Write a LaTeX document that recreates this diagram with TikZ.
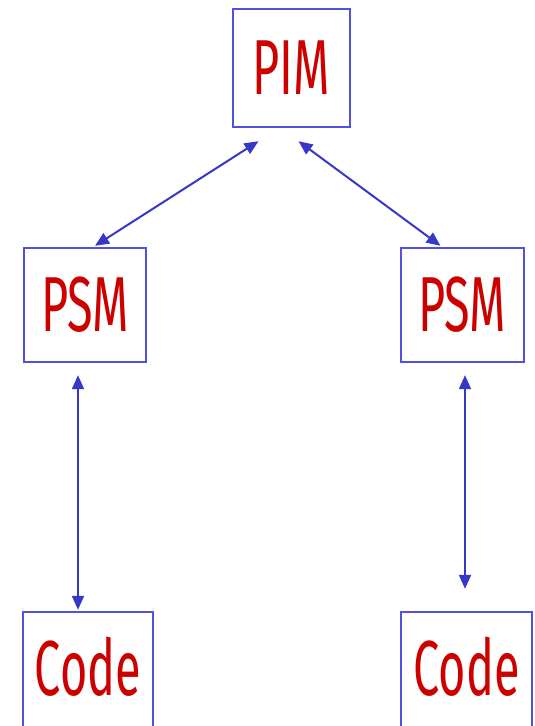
\documentclass[tikz,border=0pt]{standalone}
\usepackage{fontspec}
\usepackage{tikz}
\usetikzlibrary{arrows.meta}

\newfontfamily\modelfont[FakeStretch=0.6]{Fira Sans}
\definecolor{boxblue}{RGB}{80,80,225}
\definecolor{arrowblue}{RGB}{55,55,200}
\definecolor{labelred}{RGB}{205,0,0}

\tikzset{
  model/.style={draw=boxblue, line width=2.4pt, text=labelred, inner sep=0pt,
    font=\modelfont\fontsize{78}{78}\selectfont},
  link/.style={arrowblue, line width=2pt,
    {Triangle[length=14pt,width=12pt]}-{Triangle[length=14pt,width=12pt]}}
}

\begin{document}
\begin{tikzpicture}[x=1pt,y=-1pt]
  \clip (0,0) rectangle (535,726);
  \node[model, minimum width=117pt, minimum height=118pt] (pim)  at (291.5,68) {PIM};
  \node[model, minimum width=122pt, minimum height=114pt] (psml) at (85,305) {PSM};
  \node[model, minimum width=123pt, minimum height=114pt] (psmr) at (462.5,305) {PSM};
  \node[model, minimum width=130pt, minimum height=140pt, text depth=32pt] (codel) at (88,682) {Code};
  \node[model, minimum width=131pt, minimum height=140pt, text depth=32pt] (coder) at (466.5,682) {Code};

  \draw[link] ([xshift=-33pt,yshift=-13pt]pim.south) -- ([xshift=10pt,yshift=1pt]psml.north);
  \draw[link] ([xshift=7pt,yshift=-13pt]pim.south) -- ([xshift=-22pt,yshift=1pt]psmr.north);
  \draw[link] ([xshift=-7pt,yshift=-12pt]psml.south) -- ([xshift=-10pt,yshift=1pt]codel.north);
  \draw[link] ([xshift=2.5pt,yshift=-12pt]psmr.south) -- ([xshift=-1.5pt,yshift=22pt]coder.north);
\end{tikzpicture}
\end{document}
